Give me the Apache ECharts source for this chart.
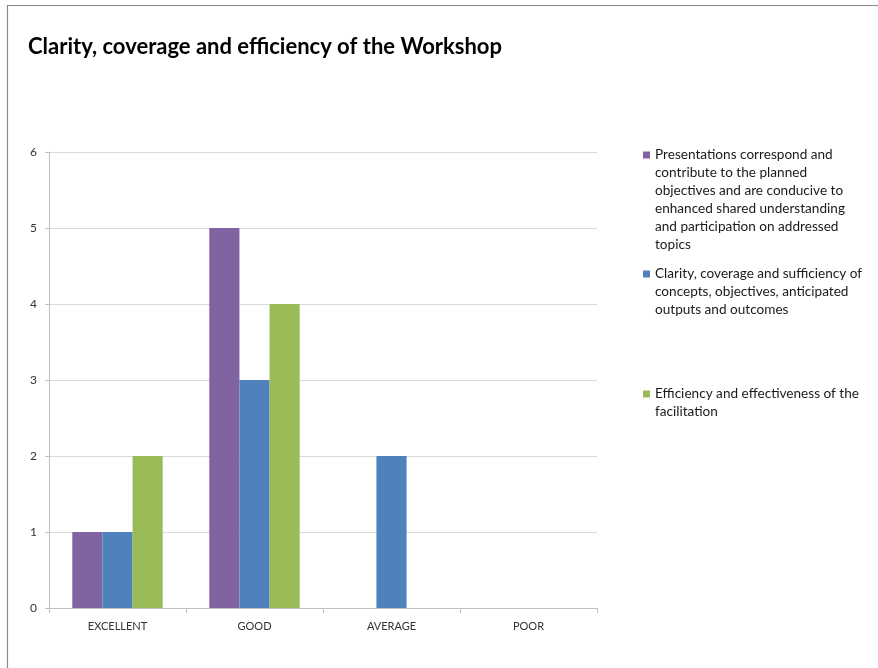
<!DOCTYPE html>
<html>
<head>
<meta charset="utf-8">
<title>Clarity, coverage and efficiency of the Workshop</title>
<script src="https://cdn.jsdelivr.net/npm/echarts@6/dist/echarts.min.js"></script>
<style>
  html, body { margin: 0; padding: 0; background: #ffffff; }
  #chart { width: 878px; height: 668px; }
</style>
</head>
<body>
<div id="chart"></div>
<script>
// Ratings per category
const categories = ['EXCELLENT', 'GOOD', 'AVERAGE', 'POOR'];
const presentationsValues = [1, 5, 0, 0];
const clarityValues = [1, 3, 2, 0];
const efficiencyValues = [2, 4, 0, 0];
const yTicks = [0, 1, 2, 3, 4, 5, 6];

const seriesNames = [
  'Presentations correspond and\ncontribute to the planned\nobjectives and are conducive to\nenhanced shared understanding\nand participation on addressed\ntopics',
  'Clarity, coverage and sufficiency of\nconcepts, objectives, anticipated\noutputs and outcomes',
  'Efficiency and effectiveness of the\nfacilitation'
];
const seriesColors = ['#8064A2', '#4F81BD', '#9BBB59'];

const FONT = 'Lato, "Open Sans", sans-serif';
const LINE_H = 18;

// One legend block per series; blank lines above the text keep the
// first text line level with the square (legend text is centred on it)
function legendBlock(name, firstLineCenter) {
  const lines = name.split('\n').length;
  return {
    data: [name],
    orient: 'vertical',
    left: 643,
    top: firstLineCenter - (2 * lines - 1) * LINE_H / 2,
    itemWidth: 7,
    itemHeight: 7,
    itemGap: 0,
    icon: 'rect',
    selectedMode: false,
    padding: 0,
    formatter: function (n) {
      return '\u00a0\n'.repeat(lines - 1) + n;
    },
    textStyle: {
      fontFamily: FONT,
      fontSize: 13.6,
      color: '#1a1a1a',
      lineHeight: LINE_H
    }
  };
}

const chart = echarts.init(document.getElementById('chart'), null, { renderer: 'canvas' });

chart.setOption({
  backgroundColor: '#ffffff',
  animation: false,
  textStyle: { fontFamily: FONT },
  title: {
    text: 'Clarity, coverage and efficiency of the Workshop',
    left: 28,
    top: 36,
    padding: 0,
    textStyle: {
      fontFamily: FONT,
      fontSize: 22,
      fontWeight: 'bold',
      color: '#000000'
    }
  },
  graphic: [{
    type: 'rect',
    silent: true,
    shape: { x: 7.5, y: 5.5, width: 1000, height: 1000 },
    style: { fill: 'none', stroke: '#8a8a8a', lineWidth: 1.2 }
  }],
  legend: [
    legendBlock(seriesNames[0], 155),
    legendBlock(seriesNames[1], 274),
    legendBlock(seriesNames[2], 394)
  ],
  grid: {
    left: 49,
    right: 281,
    top: 152,
    bottom: 60,
    containLabel: false
  },
  xAxis: {
    type: 'category',
    data: categories,
    axisLine: { lineStyle: { color: '#BFBFBF', width: 1 } },
    axisTick: { show: true, length: 5, lineStyle: { color: '#BFBFBF' } },
    axisLabel: {
      fontFamily: FONT,
      fontSize: 11,
      color: '#333333',
      margin: 13
    },
    splitLine: { show: false }
  },
  yAxis: {
    type: 'value',
    min: yTicks[0],
    max: yTicks[yTicks.length - 1],
    interval: 1,
    axisLine: { show: true, lineStyle: { color: '#BFBFBF', width: 1 } },
    axisTick: { show: true, length: 4, lineStyle: { color: '#BFBFBF' } },
    axisLabel: {
      fontFamily: FONT,
      fontSize: 12,
      color: '#333333',
      margin: 12
    },
    splitLine: { show: true, lineStyle: { color: '#D9D9D9', width: 1 } }
  },
  series: [
    {
      name: seriesNames[0],
      type: 'bar',
      data: presentationsValues,
      barGap: '0%',
      barCategoryGap: '34%',
      itemStyle: { color: seriesColors[0] }
    },
    {
      name: seriesNames[1],
      type: 'bar',
      data: clarityValues,
      barGap: '0%',
      barCategoryGap: '34%',
      itemStyle: { color: seriesColors[1] }
    },
    {
      name: seriesNames[2],
      type: 'bar',
      data: efficiencyValues,
      barGap: '0%',
      barCategoryGap: '34%',
      itemStyle: { color: seriesColors[2] }
    }
  ]
});
</script>
</body>
</html>
